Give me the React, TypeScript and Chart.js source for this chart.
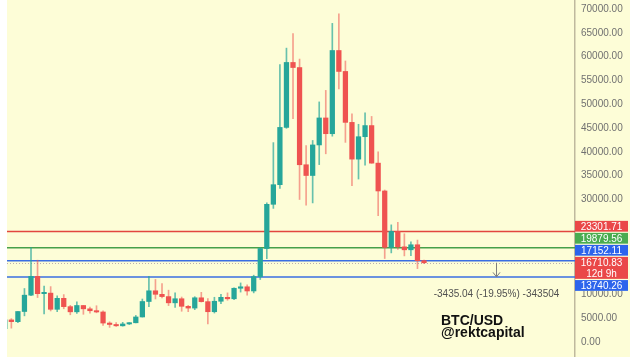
import { useEffect, useRef } from 'react';
import { Chart, registerables } from 'chart.js';

Chart.register(...registerables);

// ---- data (monthly BTC/USD candles) ----
const months = [
  'Aug 2017', 'Sep 2017', 'Oct 2017', 'Nov 2017', 'Dec 2017',
  'Jan 2018', 'Feb 2018', 'Mar 2018', 'Apr 2018', 'May 2018', 'Jun 2018', 'Jul 2018', 'Aug 2018', 'Sep 2018', 'Oct 2018', 'Nov 2018', 'Dec 2018',
  'Jan 2019', 'Feb 2019', 'Mar 2019', 'Apr 2019', 'May 2019', 'Jun 2019', 'Jul 2019', 'Aug 2019', 'Sep 2019', 'Oct 2019', 'Nov 2019', 'Dec 2019',
  'Jan 2020', 'Feb 2020', 'Mar 2020', 'Apr 2020', 'May 2020', 'Jun 2020', 'Jul 2020', 'Aug 2020', 'Sep 2020', 'Oct 2020', 'Nov 2020', 'Dec 2020',
  'Jan 2021', 'Feb 2021', 'Mar 2021', 'Apr 2021', 'May 2021', 'Jun 2021', 'Jul 2021', 'Aug 2021', 'Sep 2021', 'Oct 2021', 'Nov 2021', 'Dec 2021',
  'Jan 2022', 'Feb 2022', 'Mar 2022', 'Apr 2022', 'May 2022', 'Jun 2022', 'Jul 2022', 'Aug 2022', 'Sep 2022', 'Oct 2022', 'Nov 2022', 'Dec 2022',
];
const opens = [
  2871, 4703, 4338, 6468, 9900,
  13860, 10220, 10330, 6930, 9240, 7490, 6400, 7730, 7030, 6630, 6370, 4040,
  3740, 3460, 3850, 4100, 5320, 8570, 10820, 10080, 9600, 8290, 9150, 7560,
  7190, 9350, 8540, 6420, 8620, 9450, 9140, 11350, 11660, 10780, 13800, 19700,
  28990, 33110, 45140, 58790, 57720, 37300, 35040, 41460, 47130, 43820, 61300, 56900,
  46200, 38480, 43190, 45530, 37640, 31790, 19940, 23300, 20050, 19430, 20490, 17152,
];
const highs = [
  4736, 4975, 6470, 11300, 19880,
  17250, 11800, 11700, 9760, 10020, 7770, 8500, 7750, 7410, 7680, 6590, 4310,
  4140, 4200, 4140, 5640, 9090, 13880, 13200, 12330, 10950, 10370, 9510, 7750,
  9580, 10500, 9190, 9460, 10070, 10380, 11450, 12470, 12080, 14100, 19900, 29300,
  41950, 58350, 61800, 64860, 59500, 41330, 42400, 50500, 52920, 67000, 69000, 59100,
  47990, 45800, 48200, 47450, 40000, 31990, 24670, 25200, 22800, 21100, 21480, 17250,
];
const lows = [
  2580, 2972, 4107, 5555, 9800,
  9400, 5950, 6580, 6430, 7040, 5780, 6070, 5880, 6100, 6200, 3550, 3130,
  3350, 3390, 3730, 4080, 5300, 7500, 9100, 9320, 7710, 7300, 6520, 6430,
  6850, 8450, 3850, 6150, 8110, 8830, 8970, 10550, 9880, 10380, 13190, 17570,
  28130, 32300, 44950, 47000, 30000, 28800, 29280, 37330, 39600, 43300, 53250, 42000,
  32900, 34300, 37200, 37600, 26600, 17600, 18780, 19520, 18150, 18190, 15480, 16500,
];
const closes = [
  4703, 4338, 6468, 9900, 13860,
  10220, 10330, 6930, 9240, 7490, 6400, 7730, 7030, 6630, 6370, 4040, 3740,
  3460, 3850, 4100, 5320, 8570, 10820, 10080, 9600, 8290, 9150, 7560, 7190,
  9350, 8540, 6420, 8620, 9450, 9140, 11350, 11660, 10780, 13800, 19700, 28990,
  33110, 45140, 58790, 57720, 37300, 35040, 41460, 47130, 43820, 61300, 56900, 46200,
  38480, 43190, 45530, 37640, 31790, 19940, 23300, 20050, 19430, 20490, 17152, 16710.83,
];

const levelValues = [23301.71, 19879.56, 17152.11, 13740.26];
const levelColors = ['#e2463f', '#46a04a', '#3a6ee2', '#3a6ee2'];
const levelBoxColors = ['#ea4848', '#4aac50', '#2c64ec', '#2c64ec'];
const currentPrice = 16710.83;
const countdown = '12d 9h';
const yTicks = [0, 5000, 10000, 15000, 20000, 25000, 30000, 35000, 40000, 45000, 50000, 55000, 60000, 65000, 70000];
const measureIndex = 75;
const measureText = '-3435.04 (-19.95%) -343504';
const titleLines = ['BTC/USD', '@rektcapital'];

const YELLOW = '#fdfdd7';
const UP = '#26a69a';
const DOWN = '#ef5350';
const UP_WICK = 'rgba(38,166,154,0.7)';
const DOWN_WICK = 'rgba(239,83,80,0.55)';
const FONT = '"Liberation Sans", Arial, sans-serif';

export default function App() {
  const ref = useRef<HTMLCanvasElement>(null);

  useEffect(() => {
    const canvas = ref.current;
    if (!canvas) return;

    const up = months.map((_, i) => closes[i] >= opens[i]);
    const bodies = months.map((_, i) => ({ x: i, y: [opens[i], closes[i]] }));
    const wicks = months.map((_, i) => ({ x: i, y: [lows[i], highs[i]] }));

    const bgPlugin = {
      id: 'bg',
      beforeDraw(chart: any) {
        const { ctx, chartArea } = chart;
        const ys = chart.scales.y;
        ctx.save();
        ctx.fillStyle = '#ffffff';
        ctx.fillRect(0, 0, chart.width, chart.height);
        ctx.fillStyle = YELLOW;
        ctx.fillRect(chartArea.left, 0, ys.right - chartArea.left, chart.height);
        ctx.restore();
      },
    };

    const linesPlugin = {
      id: 'levels',
      beforeDatasetsDraw(chart: any) {
        const { ctx, chartArea } = chart;
        const ys = chart.scales.y;
        ctx.save();
        levelValues.forEach((v, i) => {
          const y = ys.getPixelForValue(v);
          ctx.strokeStyle = levelColors[i];
          ctx.lineWidth = 1.5;
          ctx.beginPath();
          ctx.moveTo(chartArea.left, y);
          ctx.lineTo(chartArea.right, y);
          ctx.stroke();
        });
        const yc = ys.getPixelForValue(currentPrice);
        ctx.strokeStyle = '#b9aeb0';
        ctx.lineWidth = 1;
        ctx.setLineDash([1, 2]);
        ctx.beginPath();
        ctx.moveTo(chartArea.left, Math.round(yc) + 0.5);
        ctx.lineTo(chartArea.right, Math.round(yc) + 0.5);
        ctx.stroke();
        ctx.restore();
      },
    };

    const overlayPlugin = {
      id: 'overlay',
      afterDraw(chart: any) {
        const { ctx, chartArea } = chart;
        const ys = chart.scales.y;
        const xs = chart.scales.x;
        ctx.save();

        // measurement arrow
        const ax = Math.round(xs.getPixelForValue(measureIndex)) + 0.5;
        const y1 = ys.getPixelForValue(currentPrice);
        const y2 = ys.getPixelForValue(levelValues[3]);
        ctx.strokeStyle = '#7d7d7d';
        ctx.lineWidth = 1;
        ctx.beginPath();
        ctx.moveTo(ax, y1);
        ctx.lineTo(ax, y2);
        ctx.moveTo(ax - 3.5, y2 - 4.5);
        ctx.lineTo(ax, y2);
        ctx.lineTo(ax + 3.5, y2 - 4.5);
        ctx.stroke();

        ctx.fillStyle = '#505050';
        ctx.font = `10px ${FONT}`;
        ctx.textAlign = 'center';
        ctx.textBaseline = 'middle';
        ctx.fillText(measureText, ax, y2 + 17.5);

        // title
        ctx.fillStyle = '#111111';
        ctx.font = `bold 14px ${FONT}`;
        ctx.textAlign = 'left';
        ctx.textBaseline = 'alphabetic';
        const tx = chartArea.right - 134;
        ctx.fillText(titleLines[0], tx, 325);
        ctx.fillText(titleLines[1], tx, 337);

        // price label boxes on the axis
        const items = [
          { v: levelValues[0], h: 10.8, color: levelBoxColors[0], lines: [levelValues[0].toFixed(2)] },
          { v: levelValues[1], h: 10.8, color: levelBoxColors[1], lines: [levelValues[1].toFixed(2)] },
          { v: levelValues[2], h: 10.8, color: levelBoxColors[2], lines: [levelValues[2].toFixed(2)] },
          { v: currentPrice, h: 22, color: '#ea4848', lines: [currentPrice.toFixed(2), countdown] },
          { v: levelValues[3], h: 10.8, color: levelBoxColors[3], lines: [levelValues[3].toFixed(2)] },
        ];
        const gap = 1.2;
        const total = items.reduce((s, it) => s + it.h, 0) + gap * (items.length - 1);
        const meanCenter = items.reduce((s, it) => s + ys.getPixelForValue(it.v), 0) / items.length;
        let top = meanCenter - total / 2;
        const bx = ys.left;
        const bw = 53;
        ctx.fillStyle = YELLOW;
        ctx.fillRect(bx + 1, top - 7, ys.right - bx - 1, total + 7);
        ctx.font = `10px ${FONT}`;
        ctx.textAlign = 'center';
        ctx.textBaseline = 'middle';
        items.forEach((it) => {
          ctx.fillStyle = it.color;
          ctx.fillRect(bx, top, bw, it.h);
          ctx.fillStyle = '#ffffff';
          const lh = it.h / it.lines.length;
          it.lines.forEach((t, k) => {
            ctx.fillText(t, bx + bw / 2, top + lh * (k + 0.5) + 0.5);
          });
          top += it.h + gap;
        });
        ctx.restore();
      },
    };

    const chart = new Chart(canvas, {
      type: 'bar',
      data: {
        datasets: [
          {
            data: bodies as any,
            backgroundColor: up.map((u) => (u ? UP : DOWN)),
            barThickness: 4.6,
            grouped: false,
            order: 0,
            minBarLength: 1.3,
            borderWidth: 0,
            borderSkipped: false,
          } as any,
          {
            data: wicks as any,
            backgroundColor: up.map((u) => (u ? UP_WICK : DOWN_WICK)),
            barThickness: 1,
            grouped: false,
            order: 1,
            borderWidth: 0,
            borderSkipped: false,
          } as any,
        ],
      },
      options: {
        animation: false,
        responsive: true,
        maintainAspectRatio: false,
        events: [],
        layout: { padding: { left: 7, right: 10, top: 0, bottom: 0 } },
        plugins: { legend: { display: false }, tooltip: { enabled: false } },
        scales: {
          x: {
            type: 'linear',
            display: false,
            offset: false,
            bounds: 'data',
            grid: { offset: false },
            min: 0.336,
            max: 87.05,
          } as any,
          y: {
            position: 'right',
            min: -3090,
            max: 71910,
            grid: { display: false, drawTicks: false },
            border: { display: true, color: '#bfb99e', width: 1.5 },
            afterBuildTicks: (s: any) => {
              s.ticks = yTicks.map((v) => ({ value: v }));
            },
            afterFit: (s: any) => {
              s.width = 55;
              s.paddingTop = 0;
              s.paddingBottom = 0;
            },
            ticks: {
              autoSkip: false,
              padding: 6,
              color: '#707070',
              font: { family: FONT, size: 10 },
              callback: (v: any) => Number(v).toFixed(2),
            },
          } as any,
        },
      },
      plugins: [bgPlugin, linesPlugin, overlayPlugin],
    });

    return () => chart.destroy();
  }, []);

  return (
    <div style={{ position: 'fixed', left: 0, top: 0, width: 640, height: 357 }}>
      <canvas ref={ref} />
    </div>
  );
}
